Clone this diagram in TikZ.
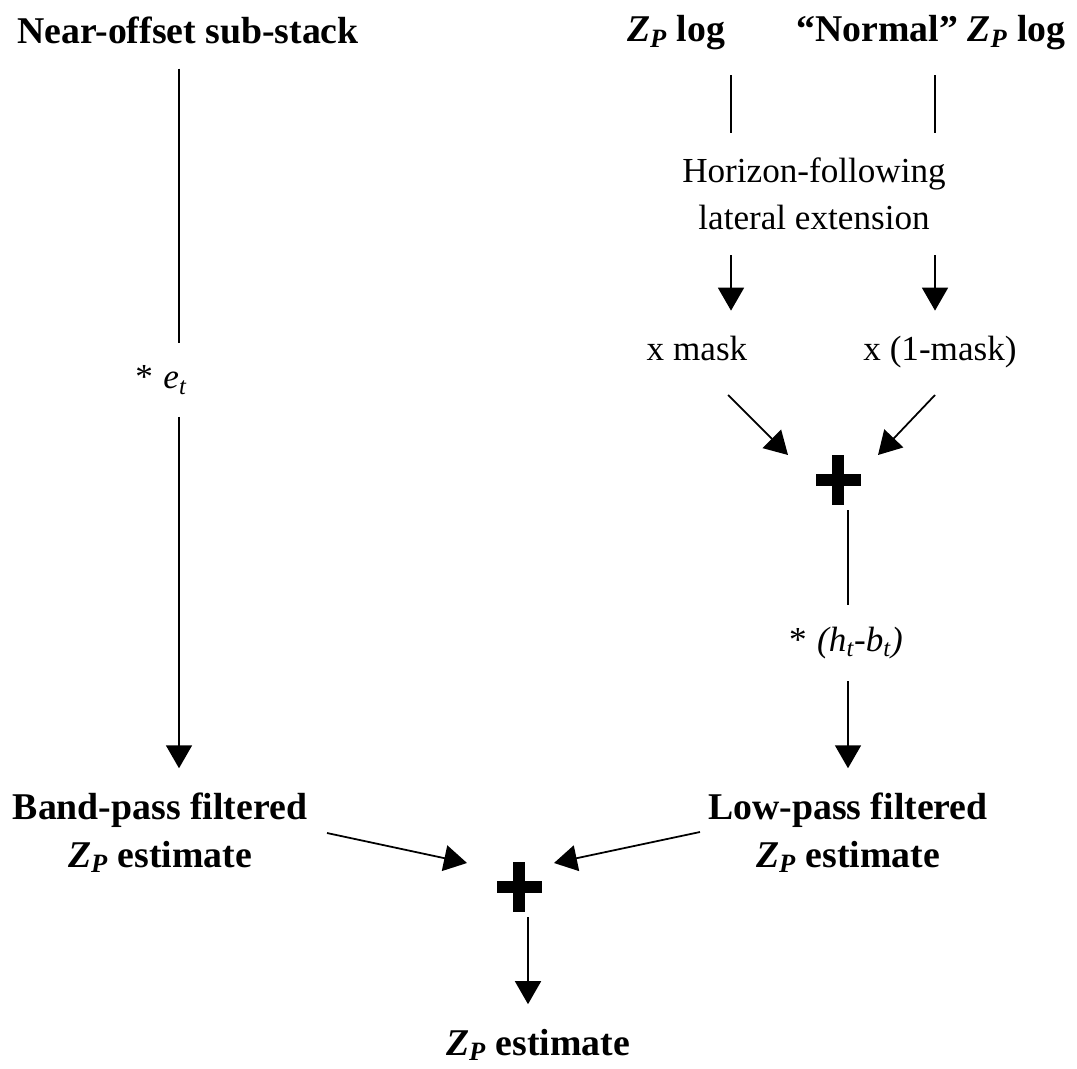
\documentclass[tikz,border=0pt]{standalone}
\usepackage{fontspec}
\setmainfont{Liberation Serif}
\usetikzlibrary{arrows.meta, positioning}
\newcommand{\Zp}{\textit{Z}\textsubscript{\textit{P}}}
\tikzset{
  head/.style={inner sep=0pt, outer sep=0.5cm, align=center,
    font=\fontsize{21.5}{27}\selectfont\bfseries},
  stagebox/.style={inner sep=0pt, outer sep=0.5cm, align=center,
    font=\fontsize{20}{27}\selectfont},
  convbox/.style={inner sep=0pt, outer sep=0.45cm,
    font=\fontsize{20}{24}\selectfont\itshape},
  plusop/.style={minimum width=2cm, minimum height=1cm, inner sep=0pt, outer sep=0.1cm,
    path picture={
      \fill ([shift={(-0.45cm,-0.12cm)}]path picture bounding box.center)
        rectangle ([shift={(0.45cm,0.12cm)}]path picture bounding box.center);
      \fill ([shift={(-0.12cm,-0.5cm)}]path picture bounding box.center)
        rectangle ([shift={(0.12cm,0.5cm)}]path picture bounding box.center);}},
  link/.style={line width=1pt},
  flow/.style={-{Triangle[length=4.6mm, width=5.2mm]}, line width=1pt},
}
\begin{document}
\begin{tikzpicture}[x=0.02cm, y=-0.02cm]
    \useasboundingbox (0,0) rectangle (1077,1068);
    \coordinate (colL) at (179,0);
    \coordinate (colA) at (731,0);
    \coordinate (colB) at (935,0);
    \coordinate (colR) at (848,0);
    \coordinate (colF) at (528,0);
    \node[head] (near) at (188,30) {Near-offset sub-stack};
    \node[head] (zplog) at (676,33) {\Zp{} log};
    \node[head] (normlog) at (931,33) {“Normal” \Zp{} log};
    \node[stagebox] (horizon) at (814,194) {Horizon-following\\lateral extension};
    \node[stagebox, anchor=base] (xmask) at (697,360) {x mask};
    \node[stagebox, anchor=base] (oneminus) at (940,360) {x (1-mask)};
    \node[plusop] (plus1) at (838,480) {};
    \node[convbox] (conv1) at (161,380) {\upshape*\hspace{0.3em}\itshape e\textsubscript{t}};
    \node[convbox] (conv2) at (846,643) {\upshape*\hspace{0.3em}\itshape (h\textsubscript{t}-b\textsubscript{t})};
    \node[head] (band) at (160,833) {Band-pass filtered\\\Zp{} estimate};
    \node[head] (lowpass) at (848,833) {Low-pass filtered\\\Zp{} estimate};
    \node[plusop] (plus2) at (519,887) {};
    \node[head] (final) at (538,1045) {\Zp{} estimate};
    \draw[link] (near.south -| colL) -- (conv1.north -| colL);
    \draw[flow] (conv1.south -| colL) -- (band.north -| colL);
    \draw[link] (zplog.south -| colA) -- (horizon.north -| colA);
    \draw[link] (normlog.south -| colB) -- (horizon.north -| colB);
    \draw[flow] (horizon.south -| colA) -- (xmask.north -| colA);
    \draw[flow] (horizon.south -| colB) -- (oneminus.north -| colB);
    \draw[flow] ([shift={(31,35)}]xmask.base) -- ([shift={(-50,-25)}]plus1.center);
    \draw[flow] ([shift={(-5,35)}]oneminus.base) -- ([shift={(40,-25)}]plus1.center);
    \draw[link] (plus1.south -| colR) -- (conv2.north -| colR);
    \draw[flow] (conv2.south -| colR) -- (lowpass.north -| colR);
    \draw[flow] ([shift={(167,0)}]band.center) -- ([shift={(-52,-24)}]plus2.center);
    \draw[flow] ([shift={(-148,-1)}]lowpass.center) -- ([shift={(35,-24)}]plus2.center);
    \draw[flow] (plus2.south -| colF) -- (final.north -| colF);
  \end{tikzpicture}
\end{document}
